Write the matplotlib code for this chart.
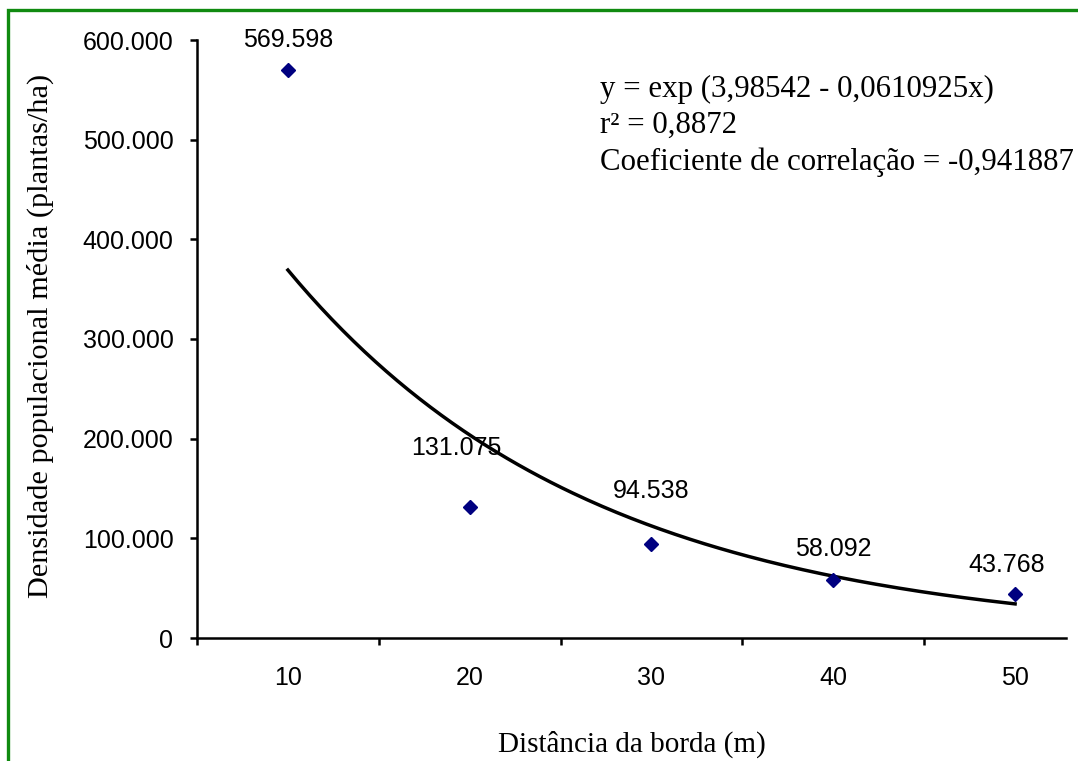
import numpy as np
import matplotlib.pyplot as plt
from matplotlib.patches import Rectangle
from matplotlib.ticker import FuncFormatter

# data
distancia = [10, 20, 30, 40, 50]
densidade = [569598, 131075, 94538, 58092, 43768]
rotulos = ['569.598', '131.075', '94.538', '58.092', '43.768']
# label nudges (pixels) as placed in the original
rot_dx = [0, -13, 0, 0, -8]
rot_dy = [30, 59, 53, 31, 29]

equacao = ('y = exp (3,98542 - 0,0610925x)\n'
           'r\u00b2 = 0,8872\n'
           'Coeficiente de correla\u00e7\u00e3o = -0,941887')

fig = plt.figure(figsize=(10.78, 7.61), dpi=100)
ax = fig.add_axes([197/1078, 123/761, 869/1078, 598/761])

pos = np.arange(len(distancia))
ax.plot(pos, densidade, linestyle='none', marker='D', markersize=7.5,
        color='#000080', zorder=3)

# exponential trend line (least squares on log values, like Excel)
b, a = np.polyfit(distancia, np.log(densidade), 1)
xs = np.linspace(distancia[0], distancia[-1], 200)
ax.plot((xs - distancia[0]) / 10.0, np.exp(a + b * xs), color='black', lw=2.5, zorder=2)

for p, v, t, dx, dy in zip(pos, densidade, rotulos, rot_dx, rot_dy):
    ax.annotate(t, (p, v), xytext=(dx, dy), textcoords='offset pixels',
                ha='center', va='center', fontsize=18, family='Liberation Sans')

ax.set_xlim(-0.5, 4.28)
ax.set_ylim(0, 600000)
ax.set_yticks(np.arange(0, 600001, 100000))
ax.yaxis.set_major_formatter(FuncFormatter(lambda v, _: f'{v:,.0f}'.replace(',', '.')))

ax.set_xticks(np.arange(-0.5, 4.0, 1.0))
ax.set_xticklabels([])
ax.set_xticks(pos, minor=True)
ax.set_xticklabels([str(d) for d in distancia], minor=True)
ax.tick_params(axis='x', which='minor', length=0, pad=20, labelsize=18)
ax.tick_params(axis='x', which='major', direction='out', length=5, width=1.8)
ax.tick_params(axis='y', direction='out', length=5, width=1.8, pad=12, labelsize=18)
for lab in ax.get_xticklabels(minor=True) + ax.get_yticklabels():
    lab.set_family('Liberation Sans')

for s in ['top', 'right']:
    ax.spines[s].set_visible(False)
for s in ['left', 'bottom']:
    ax.spines[s].set_linewidth(1.8)

ax.set_xlabel('Dist\u00e2ncia da borda (m)', family='Liberation Serif', fontsize=21)
ax.xaxis.set_label_coords(0.5006, -0.155)
ax.set_ylabel('Densidade populacional m\u00e9dia (plantas/ha)', family='Liberation Serif', fontsize=21.8)
ax.yaxis.set_label_coords(-0.165, 0.505)

ax.text(0.4637, 0.942, equacao, transform=ax.transAxes, ha='left', va='top',
        family='Liberation Serif', fontsize=22.2, linespacing=1.33)

# green frame around the chart area (runs off right/bottom edge)
fig.patches.append(Rectangle((8/1078, -0.1), 1.2, 751/761 + 0.1, transform=fig.transFigure,
                             fill=False, edgecolor='#108a10', lw=2.4))

fig.savefig('out.png', dpi=100)
